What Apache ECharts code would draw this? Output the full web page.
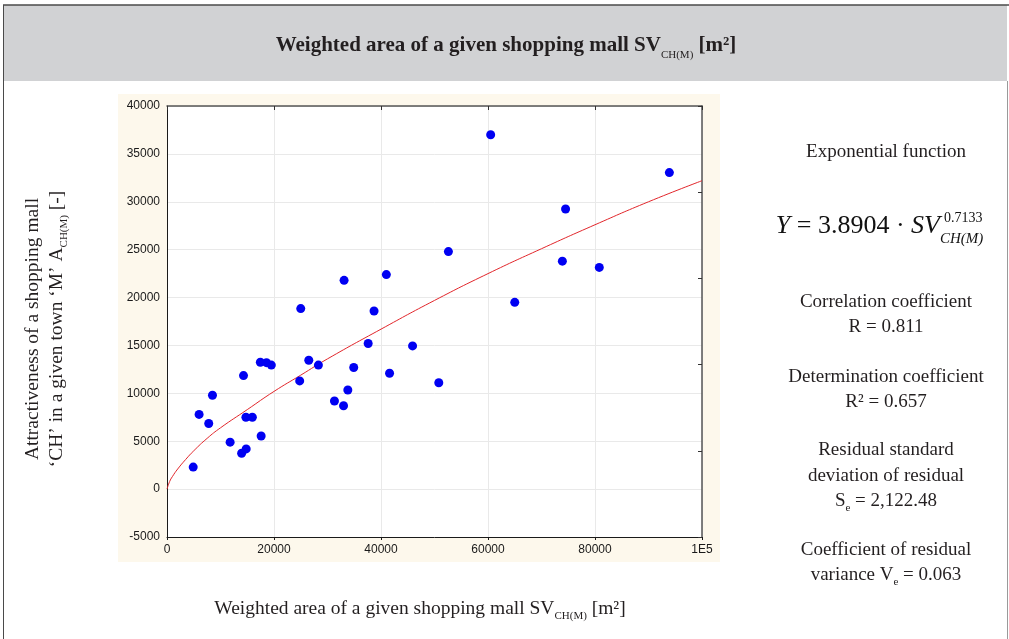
<!DOCTYPE html>
<html>
<head>
<meta charset="utf-8">
<title>Attractiveness vs weighted area</title>
<style>
  html, body { margin: 0; padding: 0; background: #fff; }
  #chart { width: 1009px; height: 639px; }
</style>
<script src="https://cdn.jsdelivr.net/npm/echarts@6/dist/echarts.min.js"></script>
</head>
<body>
<div id="chart"></div>
<script>
// weighted area SV_CH(M) [m2] of each shopping mall
var mallArea = [4900, 6000, 7800, 8500, 11800, 14300, 13950, 14800, 14750, 15950, 17600, 17450,
    18600, 19500, 24800, 25000, 26500, 28300, 31300, 33000, 33800, 34900, 33100, 37600,
    38700, 41000, 41600, 45900, 50800, 52600, 60500, 65000, 73900, 74500, 80800, 93900]
// attractiveness A_CH(M)
var attractiveness = [2300, 7800, 6850, 9800, 4900, 11850, 3750, 4200, 7500, 7500, 5550, 13250,
    13200, 12950, 11300, 18850, 13450, 12950, 9200, 8700, 10350, 12700, 21800, 15200,
    18600, 22400, 12100, 14950, 11100, 24800, 37000, 19500, 23800, 29250, 23150, 33050]

// fitted curve
var curveX = [0, 500, 1000, 2000, 3500, 5000, 7500, 10000, 15000, 20000, 25000, 30000,
    40000, 50000, 60000, 70000, 80000, 90000, 100000]
var curveY = [0, 800, 1300, 2100, 3100, 4000, 5300, 6400, 8300, 10200, 11900, 13600,
    16700, 19700, 22500, 25100, 27600, 30000, 32200]

var xTicks = [0, 20000, 40000, 60000, 80000, 100000]
var xTickLabels = ['0', '20000', '40000', '60000', '80000', '1E5']

var serif = 'Liberation Serif'
var sans = 'Liberation Sans'
var ink = '#231f20'

var points = mallArea.map(function(x, i) { return [x, attractiveness[i]] })
var curve = curveX.map(function(x, i) { return [x, curveY[i]] })

function label(text, x, y, size, extra) {
    var style = {
        text: text,
        fontSize: size,
        fontFamily: serif,
        fill: ink,
        align: 'center',
        textAlign: 'center',
        verticalAlign: 'middle',
        textVerticalAlign: 'middle',
        lineHeight: size + 6,
        rich: {
            sub: { fontSize: 11, fontFamily: serif, fill: ink, verticalAlign: 'bottom', lineHeight: 11 }
        }
    }
    for (var k in extra) style[k] = extra[k]
    return { type: 'text', x: x, y: y, z: 10, style: style }
}

var chart = echarts.init(document.getElementById('chart'))

var option = {
    animation: false,
    backgroundColor: '#fff',
    grid: {
        left: 167, top: 106, right: 307, bottom: 102,
        show: true, backgroundColor: '#fff', borderWidth: 0
    },
    xAxis: [{
        type: 'value', min: 0, max: 100000, interval: 20000,
        axisLine: { show: true, onZero: false, lineStyle: { color: '#1a1a1a', width: 1 } },
        axisTick: { show: true, length: 3, lineStyle: { color: '#1a1a1a' } },
        axisLabel: {
            margin: 7, fontSize: 12, fontFamily: sans, color: '#1a1a1a',
            formatter: function(v) {
                var i = xTicks.indexOf(v)
                return i >= 0 ? xTickLabels[i] : ''
            }
        },
        splitLine: { show: true, lineStyle: { color: '#e9e9e9', width: 1 } }
    }, {
        type: 'value', position: 'top', min: 0, max: 100000, interval: 20000,
        axisLine: { show: true, onZero: false, lineStyle: { color: '#555', width: 1.5 } },
        axisTick: { show: true, inside: true, length: 4, lineStyle: { color: '#333' } },
        axisLabel: { show: false },
        splitLine: { show: false }
    }],
    yAxis: [{
        type: 'value', min: -5000, max: 40000, interval: 5000,
        axisLine: { show: true, onZero: false, lineStyle: { color: '#1a1a1a', width: 1 } },
        axisTick: { show: false },
        axisLabel: {
            margin: 7, fontSize: 12, fontFamily: sans, color: '#1a1a1a',
            formatter: function(v) { return String(v) }
        },
        splitLine: { show: true, lineStyle: { color: '#e9e9e9', width: 1 } }
    }, {
        type: 'value', position: 'right', min: -5000, max: 40000, interval: 9000,
        axisLine: { show: true, onZero: false, lineStyle: { color: '#555', width: 1.5 } },
        axisTick: { show: true, inside: true, length: 4, lineStyle: { color: '#333' } },
        axisLabel: { show: false },
        splitLine: { show: false }
    }],
    series: [{
        type: 'line',
        xAxisIndex: 0,
        yAxisIndex: 0,
        data: curve,
        smooth: 0.5,
        showSymbol: false,
        symbol: 'none',
        lineStyle: { color: '#e2262b', width: 1 },
        z: 2
    }, {
        type: 'scatter',
        xAxisIndex: 0,
        yAxisIndex: 0,
        data: points,
        symbol: 'circle',
        symbolSize: 9,
        itemStyle: { color: '#0000f2', opacity: 1 },
        z: 3
    }],
    graphic: {
        elements: [
            // frame and header band
            { type: 'rect', z: -5, shape: { x: 3, y: 5, width: 1004, height: 76 }, style: { fill: '#d1d2d4' } },
            { type: 'line', z: 5, shape: { x1: 3, y1: 5, x2: 1009, y2: 5 }, style: { stroke: '#4a4a4a', lineWidth: 1.5 } },
            { type: 'line', z: 5, shape: { x1: 3.5, y1: 5, x2: 3.5, y2: 639 }, style: { stroke: '#4a4a4a', lineWidth: 1 } },
            { type: 'line', z: 5, shape: { x1: 1007.5, y1: 81, x2: 1007.5, y2: 639 }, style: { stroke: '#9a9a9a', lineWidth: 1 } },
            // cream panel behind the plot
            { type: 'rect', z: -5, shape: { x: 118, y: 94, width: 602, height: 468 }, style: { fill: '#fdf8ec' } },

            label('Weighted area of a given shopping mall SV{sub|CH(M)} [m²]', 506, 46, 21, {
                fontWeight: 'bold', lineHeight: 29,
                rich: { sub: { fontSize: 11, fontFamily: serif, fill: ink, verticalAlign: 'bottom', lineHeight: 11 } }
            }),
            label('Weighted area of a given shopping mall SV{sub|CH(M)} [m²]', 420, 609, 19.5),

            // y axis title, two rotated lines
            { type: 'text', x: 33, y: 329, rotation: Math.PI / 2, z: 10, style: {
                text: 'Attractiveness of a shopping mall', fontSize: 19.5, fontFamily: serif, fill: ink,
                align: 'center', textAlign: 'center', verticalAlign: 'middle', textVerticalAlign: 'middle'
            } },
            { type: 'text', x: 57, y: 329, rotation: Math.PI / 2, z: 10, style: {
                text: '‘CH’ in a given town ‘M’ A{sub|CH(M)} [-]', fontSize: 19.5, fontFamily: serif, fill: ink,
                align: 'center', textAlign: 'center', verticalAlign: 'middle', textVerticalAlign: 'middle',
                lineHeight: 25,
                rich: { sub: { fontSize: 11, fontFamily: serif, fill: ink, verticalAlign: 'bottom', lineHeight: 11 } }
            } },

            // right-hand statistics
            label('Exponential function', 886, 152, 19),
            { type: 'text', x: 940, y: 239, z: 10, style: {
                text: '{it|Y} = 3.8904 · {it|SV}', fontSize: 26, fontFamily: serif, fill: '#111',
                align: 'right', textAlign: 'right', verticalAlign: 'bottom', textVerticalAlign: 'bottom',
                rich: {
                    it: { fontSize: 26, fontFamily: serif, fontStyle: 'italic', fill: '#111' }
                }
            } },
            { type: 'text', x: 944, y: 225, z: 10, style: {
                text: '0.7133', fontSize: 14, fontFamily: serif, fill: '#111',
                align: 'left', textAlign: 'left', verticalAlign: 'bottom', textVerticalAlign: 'bottom'
            } },
            { type: 'text', x: 940, y: 247, z: 10, style: {
                text: 'CH(M)', fontSize: 15, fontFamily: serif, fontStyle: 'italic', fill: '#111',
                align: 'left', textAlign: 'left', verticalAlign: 'bottom', textVerticalAlign: 'bottom'
            } },
            label('Correlation coefficient', 886, 302, 19),
            label('R = 0.811', 886, 327, 19),
            label('Determination coefficient', 886, 377, 19),
            label('R² = 0.657', 886, 402, 19),
            label('Residual standard', 886, 450, 19),
            label('deviation of residual', 886, 476, 19),
            label('S{sub|e} = 2,122.48', 886, 501, 19),
            label('Coefficient of residual', 886, 550, 19),
            label('variance V{sub|e} = 0.063', 886, 575, 19)
        ]
    }
}

chart.setOption(option)
</script>
</body>
</html>
